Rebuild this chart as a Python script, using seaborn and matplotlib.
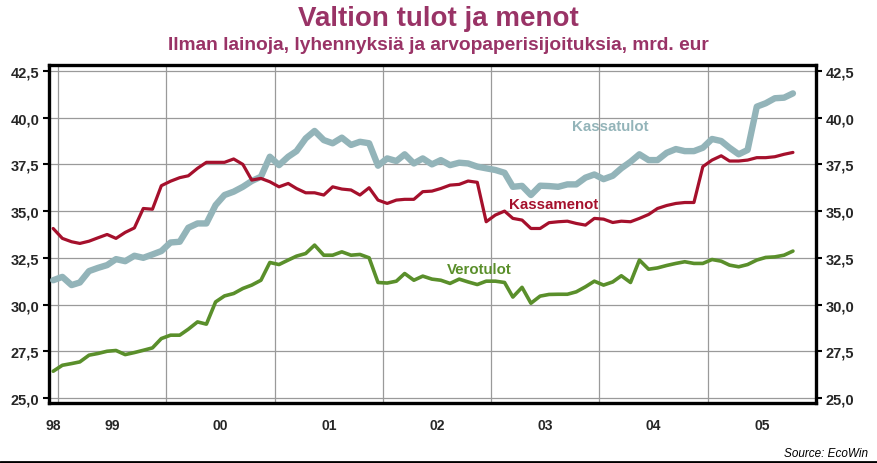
import pandas as pd
import matplotlib.pyplot as plt
import matplotlib.dates as mdates
from matplotlib.ticker import FuncFormatter, FixedLocator
from matplotlib.lines import Line2D
import seaborn as sns

# ===== DATA (mrd. eur, 12 kk liukuva summa, kuukausittain 12/1998 - 10/2005) =====
kassatulot = [
    31.30, 31.48, 31.04, 31.18, 31.79, 31.96, 32.11, 32.43, 32.32, 32.61, 32.50, 32.68,
    32.86, 33.32, 33.36, 34.11, 34.34, 34.34, 35.32, 35.86, 36.04, 36.30, 36.61, 36.84,
    37.91, 37.46, 37.91, 38.21, 38.89, 39.29, 38.80, 38.63, 38.93, 38.54, 38.71, 38.63,
    37.43, 37.82, 37.68, 38.04, 37.55, 37.82, 37.50, 37.73, 37.46, 37.59, 37.55, 37.38,
    37.29, 37.20, 37.05, 36.30, 36.35, 35.86, 36.36, 36.34, 36.30, 36.43, 36.43, 36.79,
    36.96, 36.71, 36.89, 37.29, 37.64, 38.04, 37.73, 37.73, 38.12, 38.32, 38.21, 38.21,
    38.39, 38.86, 38.75, 38.39, 38.04, 38.27, 40.59, 40.77, 41.04, 41.07, 41.30,
]
kassamenot = [
    34.07, 33.54, 33.36, 33.27, 33.39, 33.57, 33.75, 33.54, 33.86, 34.10, 35.14, 35.10,
    36.36, 36.60, 36.79, 36.89, 37.29, 37.61, 37.61, 37.61, 37.79, 37.50, 36.66, 36.75,
    36.57, 36.30, 36.48, 36.21, 35.98, 35.98, 35.86, 36.30, 36.18, 36.13, 35.86, 36.25,
    35.59, 35.41, 35.59, 35.63, 35.63, 36.04, 36.07, 36.21, 36.39, 36.43, 36.61, 36.54,
    34.43, 34.79, 35.00, 34.61, 34.52, 34.07, 34.07, 34.38, 34.43, 34.46, 34.34, 34.25,
    34.61, 34.57, 34.39, 34.46, 34.43, 34.61, 34.82, 35.14, 35.30, 35.41, 35.46, 35.46,
    37.38, 37.73, 37.96, 37.68, 37.68, 37.73, 37.86, 37.86, 37.91, 38.04, 38.14,
]
verotulot = [
    26.43, 26.75, 26.84, 26.93, 27.29, 27.38, 27.50, 27.54, 27.32, 27.43, 27.55, 27.68,
    28.18, 28.36, 28.36, 28.68, 29.07, 28.95, 30.14, 30.46, 30.59, 30.86, 31.04, 31.30,
    32.25, 32.14, 32.38, 32.59, 32.73, 33.18, 32.64, 32.64, 32.82, 32.64, 32.68, 32.50,
    31.18, 31.15, 31.25, 31.66, 31.30, 31.52, 31.36, 31.30, 31.13, 31.36, 31.21, 31.07,
    31.25, 31.25, 31.18, 30.40, 30.92, 30.07, 30.45, 30.54, 30.55, 30.55, 30.68, 30.95,
    31.25, 31.04, 31.21, 31.54, 31.18, 32.38, 31.89, 31.96, 32.09, 32.20, 32.29, 32.20,
    32.20, 32.41, 32.32, 32.11, 32.02, 32.14, 32.38, 32.52, 32.55, 32.64, 32.86,
]
months = pd.date_range("1998-12-01", periods=len(kassatulot), freq="MS") + pd.Timedelta(days=14)

year_labels = ["98", "99", "00", "01", "02", "03", "04", "05"]
y_ticks = [25.0, 27.5, 30.0, 32.5, 35.0, 37.5, 40.0, 42.5]

df = pd.DataFrame({
    "Kuukausi": months,
    "Kassatulot": kassatulot,
    "Kassamenot": kassamenot,
    "Verotulot": verotulot,
})

# ===== TYYLI =====
sns.set_style("white")
plt.rcParams["font.family"] = ["Liberation Sans", "DejaVu Sans"]

title_col = "#993366"
teal = "#93B4B9"
red = "#A5102C"
green = "#5A8F2B"

fig = plt.figure(figsize=(8.77, 4.64), dpi=100)
ax = fig.add_axes([0.0559, 0.1293, 0.8746, 0.7285])

sns.lineplot(data=df, x="Kuukausi", y="Kassatulot", ax=ax, color=teal, linewidth=4.6, zorder=3)
sns.lineplot(data=df, x="Kuukausi", y="Kassamenot", ax=ax, color=red, linewidth=2.3, zorder=4)
sns.lineplot(data=df, x="Kuukausi", y="Verotulot", ax=ax, color=green, linewidth=2.6, zorder=4)

# ===== AKSELIT =====
x0 = pd.Timestamp("1998-12-01")
x1 = pd.Timestamp("2006-01-01")
ax.set_xlim(x0, x1)
ax.set_ylim(24.73, 42.82)

year_starts = [x0] + [pd.Timestamp(f"{y}-01-01") for y in range(1999, 2006)]
label_pos = [pd.Timestamp("1998-12-16")] + [pd.Timestamp(f"{y}-07-02") for y in range(1999, 2006)]
ax.xaxis.set_major_locator(FixedLocator(mdates.date2num(year_starts)))
ax.xaxis.set_minor_locator(FixedLocator(mdates.date2num(label_pos)))
ax.xaxis.set_major_formatter(FuncFormatter(lambda v, p: ""))
ax.xaxis.set_minor_formatter(FuncFormatter(lambda v, p: year_labels[p] if p is not None and p < len(year_labels) else ""))
ax.tick_params(axis="x", which="major", direction="out", length=5, width=2.2, color="black")
ax.tick_params(axis="x", which="minor", length=0, pad=11, labelsize=10)

ax.set_yticks(y_ticks)
ax.yaxis.set_major_formatter(FuncFormatter(lambda v, p: f"{v:.1f}".replace(".", ",")))
ax.tick_params(axis="y", direction="out", length=4, width=1.5, color="black",
               left=True, right=True, labelleft=True, labelright=True, labelsize=10.5, pad=3)

ax.set_xlabel("")
ax.set_ylabel("")

ax.grid(True, axis="y", color="#9a9a9a", linewidth=0.9)
ax.grid(True, axis="x", which="major", color="#9a9a9a", linewidth=0.9)
ax.set_axisbelow(True)

for s in ax.spines.values():
    s.set_visible(True)
    s.set_color("black")
    s.set_linewidth(2.4)

fig.canvas.draw()
for lab in ax.xaxis.get_minorticklabels() + ax.yaxis.get_majorticklabels():
    lab.set_fontweight("bold")
for t in ax.yaxis.get_major_ticks():
    t.label2.set_fontweight("bold")

# ===== TEKSTIT =====
ax.text(pd.Timestamp("2004-02-08"), 39.56, "Kassatulot", color=teal, fontsize=10.8,
        fontweight="bold", ha="center", va="center", zorder=5)
ax.text(pd.Timestamp("2003-07-30"), 35.38, "Kassamenot", color=red, fontsize=10.8,
        fontweight="bold", ha="center", va="center", zorder=5)
ax.text(pd.Timestamp("2002-11-20"), 31.90, "Verotulot", color=green, fontsize=10.8,
        fontweight="bold", ha="center", va="center", zorder=5)

fig.text(0.5, 0.960, "Valtion tulot ja menot", color=title_col, fontsize=20,
         fontweight="bold", ha="center", va="center")
fig.text(0.5, 0.901, "Ilman lainoja, lyhennyksiä ja arvopaperisijoituksia, mrd. eur",
         color=title_col, fontsize=13.8, fontweight="bold", ha="center", va="center")
fig.text(0.99, 0.022, "Source: EcoWin", fontsize=8.5, style="italic",
         ha="right", va="center", color="black")
fig.add_artist(Line2D([0, 1], [0.002, 0.002], transform=fig.transFigure, color="black", linewidth=2))

plt.savefig("out.png", dpi=100)
plt.close()
